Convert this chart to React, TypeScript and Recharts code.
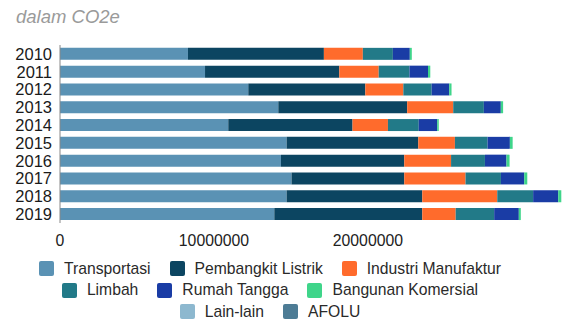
import { BarChart, Bar, XAxis, YAxis } from "recharts";

const years = ["2010", "2011", "2012", "2013", "2014", "2015", "2016", "2017", "2018", "2019"];

// emisi per sektor (ton CO2e)
const transportasi = [8310000, 9420000, 12230000, 14180000, 10930000, 14720000, 14350000, 15040000, 14720000, 13920000];
const pembangkitListrik = [8830000, 8720000, 7600000, 8370000, 8070000, 8550000, 8010000, 7320000, 8810000, 9610000];
const industriManufaktur = [2530000, 2560000, 2470000, 2990000, 2300000, 2380000, 3040000, 3980000, 4870000, 2170000];
const limbah = [1950000, 2000000, 1840000, 1990000, 2000000, 2120000, 2200000, 2300000, 2330000, 2500000];
const rumahTangga = [1100000, 1200000, 1140000, 1100000, 1200000, 1450000, 1400000, 1510000, 1630000, 1600000];
const bangunanKomersial = [130000, 150000, 150000, 150000, 100000, 180000, 200000, 200000, 200000, 130000];
const lainLain = [0, 0, 0, 0, 0, 0, 0, 0, 0, 0];
const afolu = [0, 0, 0, 0, 0, 0, 0, 0, 0, 0];

const xTicks = [0, 10000000, 20000000];

const series = [
  { key: "transportasi", name: "Transportasi", color: "#5a92b4", values: transportasi },
  { key: "pembangkit", name: "Pembangkit Listrik", color: "#0c4561", values: pembangkitListrik },
  { key: "industri", name: "Industri Manufaktur", color: "#ff6b2c", values: industriManufaktur },
  { key: "limbah", name: "Limbah", color: "#227a88", values: limbah },
  { key: "rumah", name: "Rumah Tangga", color: "#1a3ca5", values: rumahTangga },
  { key: "bangunan", name: "Bangunan Komersial", color: "#3fd58a", values: bangunanKomersial },
  { key: "lain", name: "Lain-lain", color: "#8db8cf", values: lainLain },
  { key: "afolu", name: "AFOLU", color: "#4d7c95", values: afolu },
];

const data = years.map((year, i) => {
  const row: Record<string, any> = { year };
  series.forEach((s) => (row[s.key] = s.values[i]));
  return row;
});

const legendRows = [series.slice(0, 3), series.slice(3, 6), series.slice(6)];

const font = "'Liberation Sans', Arial, sans-serif";

export default function App() {
  return (
    <div style={{ position: "absolute", left: 0, top: 0, width: 568, height: 319, background: "#fff", fontFamily: font }}>
      <div
        style={{
          position: "absolute",
          left: 16,
          top: 7,
          fontSize: 18.5,
          lineHeight: 1.1,
          fontStyle: "italic",
          color: "#9a9a9a",
        }}
      >
        dalam CO2e
      </div>
      <BarChart
        width={568}
        height={250}
        data={data}
        layout="vertical"
        barCategoryGap="16%"
        margin={{ top: 45, right: 3, bottom: 0, left: 0 }}
      >
        <XAxis
          type="number"
          domain={[0, 32800000]}
          ticks={xTicks}
          axisLine={false}
          tickLine={false}
          tickSize={0}
          tickMargin={12}
          height={27}
          tick={{ fill: "#222", fontSize: 15.8, fontFamily: font }}
        />
        <YAxis
          type="category"
          dataKey="year"
          width={60}
          interval={0}
          axisLine={{ stroke: "#888" }}
          tickLine={false}
          tickSize={0}
          tickMargin={8}
          tick={{ fill: "#1a1a1a", fontSize: 16.5, fontFamily: font }}
        />
        {series.map((s) => (
          <Bar key={s.key} dataKey={s.key} name={s.name} stackId="a" fill={s.color} isAnimationActive={false} />
        ))}
      </BarChart>
      <div style={{ position: "absolute", left: 0, top: 258, width: 540 }}>
        {legendRows.map((row, r) => (
          <div key={r} style={{ display: "flex", justifyContent: "center", height: 21.5, alignItems: "center" }}>
            {row.map((s) => (
              <div key={s.key} style={{ display: "flex", alignItems: "center", margin: "0 9.5px" }}>
                <span
                  style={{
                    display: "inline-block",
                    width: 15,
                    height: 15,
                    borderRadius: 2,
                    background: s.color,
                    marginRight: 10,
                  }}
                />
                <span style={{ fontSize: 15.7, lineHeight: 1, color: "#2a2a2a" }}>{s.name}</span>
              </div>
            ))}
          </div>
        ))}
      </div>
    </div>
  );
}
